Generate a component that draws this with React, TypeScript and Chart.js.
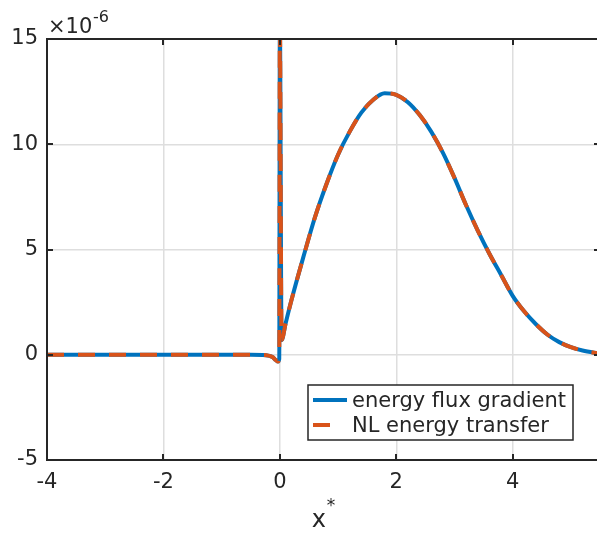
import React, { useEffect, useRef } from "react";
import { Chart, registerables } from "chart.js";

Chart.register(...registerables);

// x* positions
const xValues = [
  -4, -3, -2, -1, -0.5, -0.3, -0.2, -0.12, -0.07, -0.03, -0.01, 0, 0.03, 0.1, 0.2, 0.4, 0.6,
  0.8, 1.0, 1.2, 1.4, 1.6, 1.8, 2.0, 2.2, 2.4, 2.6, 2.8, 3.0, 3.2, 3.4, 3.6, 3.8, 4.0,
  4.2, 4.4, 4.6, 4.8, 5.0, 5.2, 5.5,
];
// values in units of 1e-6
const fluxGradient = [
  0, 0, 0, 0, 0, -0.01, -0.04, -0.12, -0.25, -0.32, -0.2, 16, 0.7, 1.5, 2.6, 4.6, 6.5,
  8.1, 9.5, 10.6, 11.5, 12.1, 12.42, 12.35, 12.0, 11.4, 10.6, 9.6, 8.4, 7.1, 5.9, 4.8, 3.8, 2.8,
  2.05, 1.45, 0.95, 0.6, 0.36, 0.2, 0.05,
];
const nlTransfer = [
  0, 0, 0, 0, 0, -0.01, -0.04, -0.12, -0.25, -0.32, -0.2, 16, 0.7, 1.5, 2.6, 4.6, 6.5,
  8.1, 9.5, 10.6, 11.5, 12.1, 12.42, 12.35, 12.0, 11.4, 10.6, 9.6, 8.4, 7.1, 5.9, 4.8, 3.8, 2.8,
  2.05, 1.45, 0.95, 0.6, 0.36, 0.2, 0.05,
];
const seriesLabels = ["energy flux gradient", "NL energy transfer"];
const xTicks = [-4, -2, 0, 2, 4];
const yTicks = [-5, 0, 5, 10, 15];
const xTitle = "x";
const xTitleSup = "*";
const yExponentBase = "\u00d710";
const yExponent = "-6";

const FONT = '"DejaVu Sans", sans-serif';
const AXIS = "#262626";
const BLUE = "#0072BD";
const ORANGE = "#D95319";

export default function App() {
  const ref = useRef<HTMLCanvasElement | null>(null);

  useEffect(() => {
    if (!ref.current) return;
    const decor = {
      id: "decor",
      afterDatasetsDraw(chart: any) {
        const { ctx, chartArea: a, scales } = chart;
        ctx.save();
        ctx.strokeStyle = AXIS;
        ctx.lineWidth = 2;
        ctx.beginPath();
        ctx.rect(a.left, a.top, a.right - a.left, a.bottom - a.top);
        ctx.stroke();
        ctx.beginPath();
        for (const v of xTicks) {
          const px = Math.round(scales.x.getPixelForValue(v));
          ctx.moveTo(px, a.bottom);
          ctx.lineTo(px, a.bottom - 6);
          ctx.moveTo(px, a.top);
          ctx.lineTo(px, a.top + 6);
        }
        for (const v of yTicks) {
          const py = Math.round(scales.y.getPixelForValue(v));
          ctx.moveTo(a.left, py);
          ctx.lineTo(a.left + 6, py);
          ctx.moveTo(a.right, py);
          ctx.lineTo(a.right - 6, py);
        }
        ctx.stroke();
        ctx.restore();
      },
      afterDraw(chart: any) {
        const { ctx, chartArea: a, scales } = chart;
        ctx.save();
        // legend
        const bx = 308, by = 385, bw = 265, bh = 55;
        ctx.fillStyle = "#ffffff";
        ctx.fillRect(bx, by, bw, bh);
        ctx.strokeStyle = AXIS;
        ctx.lineWidth = 1.5;
        ctx.strokeRect(bx, by, bw, bh);
        ctx.lineWidth = 4;
        ctx.strokeStyle = BLUE;
        ctx.beginPath();
        ctx.moveTo(bx + 5, by + 15);
        ctx.lineTo(bx + 39, by + 15);
        ctx.stroke();
        ctx.strokeStyle = ORANGE;
        ctx.beginPath();
        ctx.moveTo(bx + 5, by + 40);
        ctx.lineTo(bx + 22, by + 40);
        ctx.stroke();
        ctx.fillStyle = AXIS;
        ctx.font = `21px ${FONT}`;
        ctx.textAlign = "left";
        ctx.textBaseline = "alphabetic";
        ctx.fillText(seriesLabels[0], bx + 44, by + 22);
        ctx.fillText(seriesLabels[1], bx + 44, by + 47);
        // x title
        const cx = scales.x.getPixelForValue(0.67);
        ctx.font = `24px ${FONT}`;
        ctx.textAlign = "center";
        ctx.fillText(xTitle, cx, 527);
        ctx.font = `17px ${FONT}`;
        ctx.textAlign = "left";
        ctx.fillText(xTitleSup, cx + 8, 511);
        // exponent
        ctx.font = `21px ${FONT}`;
        ctx.fillText(yExponentBase, a.left + 1, 33);
        ctx.font = `16px ${FONT}`;
        ctx.fillText(yExponent, a.left + 46, 22);
        ctx.restore();
      },
    };

    const chart = new Chart(ref.current, {
      type: "line",
      data: {
        datasets: [
          {
            label: seriesLabels[0],
            data: xValues.map((x, i) => ({ x, y: fluxGradient[i] })),
            borderColor: BLUE,
            borderWidth: 4,
            pointRadius: 0,
            cubicInterpolationMode: "monotone",
            clip: 0,
            order: 2,
          },
          {
            label: seriesLabels[1],
            data: xValues.map((x, i) => ({ x, y: nlTransfer[i] })),
            borderColor: ORANGE,
            borderWidth: 4,
            borderDash: [17, 14],
            pointRadius: 0,
            cubicInterpolationMode: "monotone",
            clip: 0,
            order: 1,
          },
        ],
      },
      options: {
        animation: false,
        responsive: true,
        maintainAspectRatio: false,
        layout: { padding: { left: 0, top: 39, right: 5, bottom: 0 } },
        plugins: { legend: { display: false }, tooltip: { enabled: false } },
        scales: {
          x: {
            type: "linear",
            min: -4,
            max: 5.5,
            afterFit: (s: any) => {
              s.height = 74;
            },
            afterBuildTicks: (s: any) => {
              s.ticks = xTicks.map((v) => ({ value: v }));
            },
            ticks: {
              font: { family: FONT, size: 21 },
              color: AXIS,
              padding: 10,
              maxRotation: 0,
            },
            grid: { color: "#dedede", lineWidth: 1.5, drawTicks: false },
            border: { display: false },
          },
          y: {
            type: "linear",
            min: -5,
            max: 15,
            afterFit: (s: any) => {
              s.width = 47;
            },
            afterBuildTicks: (s: any) => {
              s.ticks = yTicks.map((v) => ({ value: v }));
            },
            ticks: {
              font: { family: FONT, size: 21 },
              color: AXIS,
              padding: 9,
            },
            grid: { color: "#dedede", lineWidth: 1.5, drawTicks: false },
            border: { display: false },
          },
        },
      },
      plugins: [decor],
    });
    return () => chart.destroy();
  }, []);

  return (
    <div
      style={{
        position: "fixed",
        left: 0,
        top: 0,
        width: 597,
        height: 534,
        overflow: "hidden",
        background: "#ffffff",
      }}
    >
      <div style={{ position: "relative", width: 605, height: 534 }}>
        <canvas ref={ref} />
      </div>
    </div>
  );
}
